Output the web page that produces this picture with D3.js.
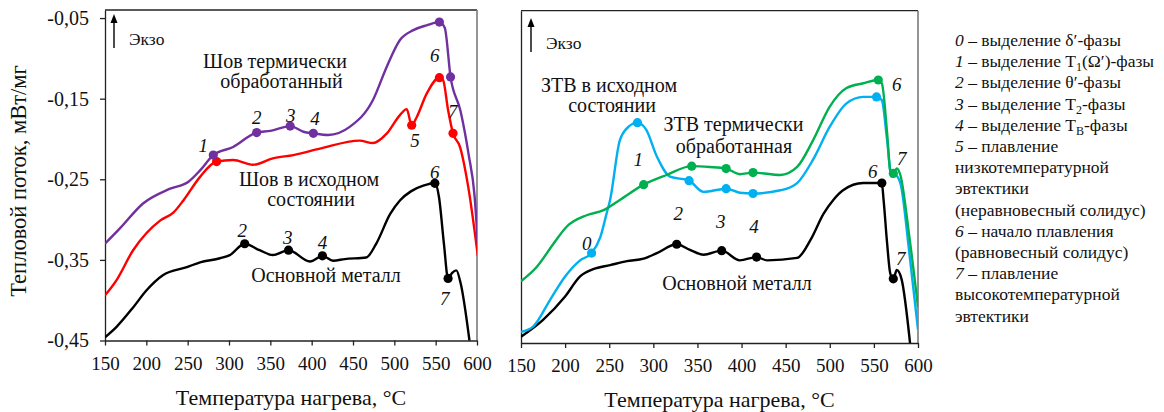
<!DOCTYPE html>
<html><head><meta charset="utf-8">
<script src="https://cdn.jsdelivr.net/npm/d3@7"></script>
<style>
body{margin:0;background:#fff}
svg text{font-family:"Times New Roman",Times,"Liberation Serif",Tinos,serif !important}
</style>
</head><body><svg id="c" width="1164" height="412" font-family="Times New Roman, Liberation Serif, serif"></svg>
<script>
// ---- data ----
const xTicks = [150,200,250,300,350,400,450,500,550,600];
const yTicks = [-0.45,-0.35,-0.25,-0.15,-0.05];
const yTickLabels = ["-0,45","-0,35","-0,25","-0,15","-0,05"];

// left panel
const leftPurple = [[150,-0.330],[168,-0.311],[196,-0.280],[228,-0.262],[251,-0.253],[265,-0.239],[281,-0.220],[305,-0.210],[333.5,-0.192],[350,-0.190],[374,-0.184],[390,-0.191],[402,-0.193],[420,-0.195],[446,-0.185],[474,-0.152],[491,-0.110],[507,-0.077],[523,-0.065],[539,-0.059],[554.5,-0.055],[561,-0.062],[568,-0.123],[580,-0.165],[590,-0.22],[597,-0.27],[601,-0.33]];
const leftRed = [[150,-0.394],[164,-0.375],[184,-0.338],[200,-0.317],[217,-0.301],[233,-0.291],[245,-0.276],[265,-0.247],[285,-0.228],[305,-0.226],[329,-0.232],[353,-0.224],[378,-0.220],[410,-0.212],[458,-0.202],[474,-0.205],[491,-0.193],[507,-0.170],[515,-0.163],[521,-0.183],[527,-0.173],[539,-0.144],[554.5,-0.124],[559,-0.127],[565,-0.164],[571,-0.193],[579.5,-0.210],[589.5,-0.260],[601,-0.345]];
const leftBlack = [[150,-0.446],[164,-0.433],[184,-0.409],[200,-0.388],[220,-0.369],[249,-0.359],[265,-0.353],[289,-0.348],[301,-0.344],[319,-0.330],[337,-0.338],[353,-0.344],[372,-0.338],[398,-0.352],[413,-0.345],[426,-0.351],[440,-0.349],[466,-0.347],[478,-0.330],[495,-0.293],[507,-0.276],[520,-0.265],[535,-0.258],[549,-0.255],[554,-0.272],[560,-0.33],[565,-0.373],[570,-0.366],[575,-0.363],[580,-0.378],[591.5,-0.455]];
const leftPurpleMarks = [[281,-0.220],[333.5,-0.192],[374,-0.184],[402,-0.193],[554.5,-0.055],[568,-0.123]];
const leftRedMarks = [[285,-0.228],[521,-0.183],[554.5,-0.124],[571,-0.193]];
const leftBlackMarks = [[319,-0.330],[372,-0.338],[413,-0.345],[549,-0.255],[565,-0.373]];
const leftNums = [["1",269,-0.208],["2",333.5,-0.173],["3",374.6,-0.171],["4",404,-0.174],["6",549,-0.096],["7",570.6,-0.166],["5",525,-0.202],["2",316,-0.313],["3",371,-0.322],["4",413,-0.328],["6",549,-0.241],["7",561,-0.398]];

// right panel
const rightBlue = [[150,-0.440],[164,-0.433],[183,-0.400],[200,-0.371],[217,-0.351],[230,-0.342],[240,-0.322],[247,-0.293],[251,-0.276],[262,-0.202],[272,-0.185],[282,-0.180],[292,-0.189],[304,-0.222],[319,-0.247],[340.5,-0.252],[357,-0.266],[382.5,-0.262],[398,-0.267],[413,-0.268],[444,-0.264],[463,-0.255],[481,-0.226],[500,-0.185],[519,-0.156],[538,-0.148],[553,-0.148],[559,-0.152],[565,-0.202],[570,-0.247],[574,-0.245],[580,-0.255],[590,-0.34],[600,-0.437]];
const rightGreen = [[150,-0.377],[168,-0.359],[187,-0.330],[202,-0.309],[224.5,-0.295],[243,-0.289],[262,-0.276],[289,-0.257],[315,-0.245],[343.5,-0.234],[364,-0.235],[382.5,-0.237],[398,-0.244],[413,-0.242],[444,-0.245],[463,-0.235],[481,-0.202],[500,-0.160],[519,-0.137],[538,-0.131],[555,-0.127],[559,-0.131],[565,-0.193],[568.5,-0.239],[572,-0.243],[576,-0.237],[580,-0.245],[590,-0.32],[600,-0.409]];
const rightBlack = [[150,-0.446],[175,-0.425],[200,-0.396],[217,-0.371],[232,-0.362],[251,-0.357],[270,-0.352],[289,-0.349],[304,-0.342],[326.5,-0.331],[341.5,-0.338],[357,-0.344],[377.5,-0.339],[398,-0.351],[417,-0.347],[429,-0.351],[463,-0.348],[478,-0.326],[493,-0.293],[504,-0.276],[515,-0.264],[538,-0.255],[559,-0.255],[561,-0.276],[565,-0.330],[568.5,-0.367],[572,-0.374],[576,-0.363],[581.5,-0.375],[591,-0.454]];
const rightBlueMarks = [[230,-0.342],[282,-0.180],[340.5,-0.252],[382.5,-0.262],[413,-0.268],[553,-0.148]];
const rightGreenMarks = [[289,-0.257],[343.5,-0.234],[382.5,-0.237],[413,-0.242],[555,-0.127],[572,-0.243]];
const rightBlackMarks = [[326.5,-0.331],[377.5,-0.339],[417,-0.347],[559,-0.255],[572,-0.374]];
const rightNums = [["0",224.5,-0.330],["1",283,-0.226],["2",328.3,-0.293],["3",376.4,-0.303],["4",414.2,-0.309],["6",576,-0.133],["7",581.6,-0.224],["6",548.8,-0.241],["7",580.5,-0.349]];

const yTitle = "Тепловой поток, мВт/мг";
const xTitle = "Температура нагрева, °C";
const exoLabel = "Экзо";

const legendItems = [
  ["0"," – выделение δ′-фазы"],
  ["1"," – выделение T","1","(Ω′)-фазы"],
  ["2"," – выделение θ′-фазы"],
  ["3"," – выделение T","2","-фазы"],
  ["4"," – выделение T","В","-фазы"],
  ["5"," – плавление"],
  ["","низкотемпературной"],
  ["","эвтектики"],
  ["","(неравновесный солидус)"],
  ["6"," – начало плавления"],
  ["","(равновесный солидус)"],
  ["7"," – плавление"],
  ["","высокотемпературной"],
  ["","эвтектики"]
];

// ---- drawing ----
const FONT = "Times New Roman, Liberation Serif, serif";
const svg = d3.select("#c");
function txt(sel){ return sel.attr("font-family",FONT).attr("fill","#111"); }

function panel(cfg){
  const x = d3.scaleLinear().domain([150,600]).range(cfg.xr);
  const y = d3.scaleLinear().domain(cfg.yd).range(cfg.yr);
  const g = svg.append("g");
  const id = "clip"+cfg.name;
  svg.append("defs").append("clipPath").attr("id",id).append("rect")
    .attr("x",cfg.xr[0]).attr("y",cfg.yr[1]).attr("width",cfg.xr[1]-cfg.xr[0]).attr("height",cfg.yr[0]-cfg.yr[1]);
  g.append("line").attr("x1",cfg.xr[0]).attr("x2",cfg.xr[1]).attr("y1",cfg.yr[1]).attr("y2",cfg.yr[1]).attr("stroke","#222").attr("stroke-width",1.3);
  g.append("line").attr("x1",cfg.xr[1]).attr("x2",cfg.xr[1]).attr("y1",cfg.yr[1]).attr("y2",cfg.yr[0]).attr("stroke","#7a7a7a").attr("stroke-width",1.6);
  const xa = g.append("g").attr("transform",`translate(0,${cfg.yr[0]})`)
    .call(d3.axisBottom(x).tickValues(xTicks).tickSize(5).tickPadding(11).tickSizeOuter(0));
  xa.attr("font-family",null);
  xa.select(".domain").attr("stroke","#222").attr("stroke-width",1.3);
  xa.selectAll(".tick line").attr("stroke","#222").attr("stroke-width",1.3);
  txt(xa.selectAll("text")).attr("font-size",19);
  const ya = g.append("g").attr("transform",`translate(${cfg.xr[0]},0)`);
  if(cfg.yLabels){
    ya.call(d3.axisLeft(y).tickValues(yTicks).tickFormat((d,i)=>yTickLabels[i]).tickSize(5).tickPadding(11).tickSizeOuter(0));
    txt(ya.selectAll("text")).attr("font-size",20);
  } else {
    ya.call(d3.axisLeft(y).tickValues([]).tickSizeOuter(0));
  }
  ya.attr("font-family",null);
  ya.select(".domain").attr("stroke","#222").attr("stroke-width",1.3);
  ya.selectAll(".tick line").attr("stroke","#222").attr("stroke-width",1.3);
  const line = d3.line().x(d=>x(d[0])).y(d=>y(d[1])).curve(d3.curveMonotoneX);
  const cg = g.append("g").attr("clip-path",`url(#${id})`);
  cfg.series.forEach(s=>{
    cg.append("path").datum(s.data).attr("d",line).attr("fill","none")
      .attr("stroke",s.color).attr("stroke-width",2.4).attr("stroke-linejoin","round");
  });
  cfg.series.forEach(s=>{
    cg.selectAll(null).data(s.marks).join("circle")
      .attr("cx",d=>x(d[0])).attr("cy",d=>y(d[1])).attr("r",4.6).attr("fill",s.color);
  });
  txt(g.selectAll(null).data(cfg.nums).join("text"))
    .attr("x",d=>x(d[1])).attr("y",d=>y(d[2])).attr("dy","0.35em")
    .attr("text-anchor","middle").attr("font-style","italic").attr("font-size",19)
    .text(d=>d[0]);
  const ax = cfg.exo[0], ay = cfg.exo[1];
  g.append("line").attr("x1",ax).attr("x2",ax).attr("y1",ay+34).attr("y2",ay+4).attr("stroke","#000").attr("stroke-width",1.4);
  g.append("path").attr("d",`M${ax-3.5},${ay+9} L${ax},${ay} L${ax+3.5},${ay+9} Z`).attr("fill","#000");
  txt(g.append("text")).attr("x",ax+15).attr("y",ay+30.5).attr("font-size",17.5).text(exoLabel);
  cfg.notes.forEach(n=>{
    txt(g.append("text")).attr("x",n[0]).attr("y",n[1]).attr("text-anchor","middle").attr("font-size",20).text(n[2]);
  });
  txt(g.append("text")).attr("x",(cfg.xr[0]+cfg.xr[1])/2).attr("y",cfg.xTitleY).attr("text-anchor","middle")
    .attr("font-size",22).text(xTitle);
  return {x,y};
}

panel({name:"L", xr:[105,477], yd:[-0.45,-0.04], yr:[340.5,10], yLabels:true,
  series:[{data:leftBlack,marks:leftBlackMarks,color:"#000000"},{data:leftRed,marks:leftRedMarks,color:"#ff0000"},{data:leftPurple,marks:leftPurpleMarks,color:"#7030a0"}],
  nums:leftNums, exo:[114,14],
  notes:[[275,68,"Шов термически"],[281.5,88,"обработанный"],[309,185.5,"Шов в исходном"],[311,206,"состоянии"],[326,282,"Основной металл"]],
  xTitleY:405});

panel({name:"R", xr:[521,918], yd:[-0.4537,-0.0409], yr:[343,10.7], yLabels:false,
  series:[{data:rightBlack,marks:rightBlackMarks,color:"#000000"},{data:rightBlue,marks:rightBlueMarks,color:"#00b0f0"},{data:rightGreen,marks:rightGreenMarks,color:"#00b050"}],
  nums:rightNums, exo:[531,18],
  notes:[[609,92,"ЗТВ в исходном"],[612,112,"состоянии"],[733.5,131,"ЗТВ термически"],[734,152.5,"обработанная"],[737,290,"Основной металл"]],
  xTitleY:407});

txt(svg.append("text")).attr("transform","translate(26,181) rotate(-90)").attr("text-anchor","middle")
  .attr("font-size",22.5).text(yTitle);

const lg = svg.append("g");
legendItems.forEach((it,i)=>{
  const t = txt(lg.append("text")).attr("font-size",17.5).attr("x",955).attr("y",46+i*21.2);
  if(it[0]) t.append("tspan").attr("font-style","italic").text(it[0]);
  t.append("tspan").text(it[1]);
  if(it.length>2){
    t.append("tspan").attr("font-size",12).attr("dy",4).text(it[2]);
    t.append("tspan").attr("dy",-4).text(it[3]);
  }
});
</script></body></html>
